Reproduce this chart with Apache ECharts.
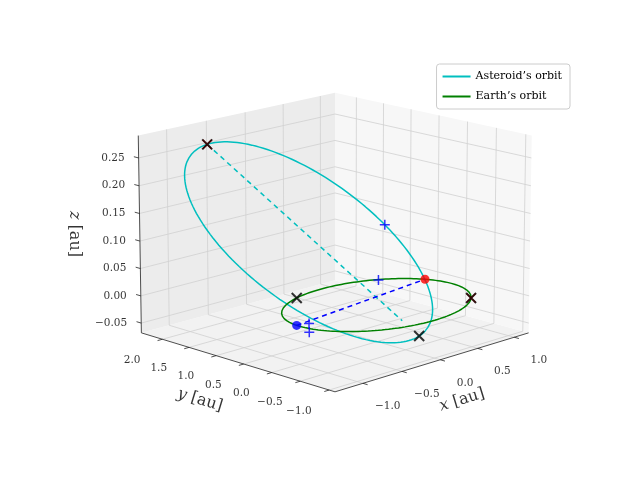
<!DOCTYPE html>
<html><head><meta charset="utf-8">
<script src="https://cdn.jsdelivr.net/npm/echarts@6/dist/echarts.min.js"></script>
<style>html,body{margin:0;padding:0;background:#fff}#c{width:640px;height:480px}</style>
</head><body><div id="c"></div>
<script>
// ---- data ----
const xTicks = [-1.0, -0.5, 0.0, 0.5, 1.0];
const yTicks = [-1.0, -0.5, 0.0, 0.5, 1.0, 1.5, 2.0];
const zTicks = [-0.05, 0.00, 0.05, 0.10, 0.15, 0.20, 0.25];
const xRange = [-1.35, 1.2];
const yRange = [-1.1, 2.4];
const zRange = [-0.068, 0.29];
// asteroid orbital shape: semi-major axis, eccentricity, perihelion dir, in-plane normal dir
const astA = 1.45, astE = 0.65;
const astP = [0.23, -0.97, -0.105];
const astQ = [0.97, 0.23, 0.0];
const earthR = 1.0;
// markers
const earthRedAngle = 22, earthBlueAngle = 177;      // degrees
const earthCrossAngles = [112, -40];
const astCrossE = [180, 5];                            // eccentric anomalies (deg)
const astPlusE = [85];
const plusPts = [[0.6, 0.78, 0.0], [-0.88, 0.0, 0.0], [-0.92, -0.06, -0.012]];

// ---- projection ----
const el = 15 * Math.PI / 180, az = -135 * Math.PI / 180;
const K = 276, CX = 335, CY = 235, BZ = 0.74, D = 12;
function nrm(v) { const l = Math.hypot(...v); return v.map(c => c / l); }
const Pn = nrm(astP), Qn = nrm(astQ);
function proj(x, y, z) {
  const u = (x - xRange[0]) / (xRange[1] - xRange[0]) - 0.5;
  const v = (y - yRange[0]) / (yRange[1] - yRange[0]) - 0.5;
  const w = ((z - zRange[0]) / (zRange[1] - zRange[0]) - 0.5) * BZ;
  const X = -u * Math.sin(az) + v * Math.cos(az);
  const Y = -Math.sin(el) * Math.cos(az) * u - Math.sin(el) * Math.sin(az) * v + Math.cos(el) * w;
  const d = Math.cos(el) * (Math.cos(az) * u + Math.sin(az) * v) + Math.sin(el) * w;
  const f = 1 / (1 - d / D);
  return [CX + K * X * f, CY - K * Y * f];
}
const [x0, x1] = xRange, [y0, y1] = yRange, [z0, z1] = zRange;
function astPos(Edeg) {
  const E = Edeg * Math.PI / 180;
  const a = astA * (Math.cos(E) - astE), b = astA * Math.sqrt(1 - astE * astE) * Math.sin(E);
  return [0, 1, 2].map(i => a * Pn[i] + b * Qn[i]);
}
function earthPos(t) { t = t * Math.PI / 180; return [earthR * Math.cos(t), earthR * Math.sin(t), 0]; }

// panes
const panes = [
  {pts: [[x0,y0,z0],[x1,y0,z0],[x1,y1,z0],[x0,y1,z0]], c: '#f2f2f2'},
  {pts: [[x1,y0,z0],[x1,y1,z0],[x1,y1,z1],[x1,y0,z1]], c: '#f7f7f7'},
  {pts: [[x0,y1,z0],[x1,y1,z0],[x1,y1,z1],[x0,y1,z1]], c: '#ececec'}
];
const segs = []; // grid lines
xTicks.forEach(x => { segs.push([proj(x,y0,z0), proj(x,y1,z0)]); segs.push([proj(x,y1,z0), proj(x,y1,z1)]); });
yTicks.forEach(y => { segs.push([proj(x0,y,z0), proj(x1,y,z0)]); segs.push([proj(x1,y,z0), proj(x1,y,z1)]); });
zTicks.forEach(z => { segs.push([proj(x1,y0,z), proj(x1,y1,z)]); segs.push([proj(x0,y1,z), proj(x1,y1,z)]); });
const axisSegs = [
  [proj(x0,y0,z0), proj(x1,y0,z0)], [proj(x0,y0,z0), proj(x0,y1,z0)], [proj(x0,y1,z0), proj(x0,y1,z1)]
];
xTicks.forEach(x => axisSegs.push([proj(x,y0,z0), proj(x,y0-0.08,z0)]));
yTicks.forEach(y => axisSegs.push([proj(x0,y,z0), proj(x0-0.06,y,z0)]));
zTicks.forEach(z => axisSegs.push([proj(x0,y1,z), proj(x0,y1+0.09,z)]));

const labels = [];
xTicks.forEach(x => { const p = proj(x, y0-0.42, z0); labels.push({value:[p[0], p[1]+16], t: x.toFixed(1).replace('-', '\u2212'), al:'center'}); });
yTicks.forEach(y => { const p = proj(x0-0.3, y, z0); labels.push({value:[p[0]-6, p[1]+14], t: y.toFixed(1).replace('-', '\u2212'), al:'center'}); });
zTicks.forEach(z => { const p = proj(x0, y1, z); labels.push({value:[p[0]-14, p[1]], t: z.toFixed(2).replace('-', '\u2212'), al:'right'}); });

const earthLine = [], astLine = [];
for (let t = 0; t <= 360; t += 2) earthLine.push(proj(...earthPos(t)));
for (let t = 0; t <= 360; t += 2) astLine.push(proj(...astPos(t)));

const aph = proj(...astPos(180));
const astNow = proj(...astPos(astCrossE[1]));
const dashEnd = [aph[0] + 0.92 * (astNow[0] - aph[0]), aph[1] + 0.92 * (astNow[1] - aph[1])];
const redP = proj(...earthPos(earthRedAngle)), blueP = proj(...earthPos(earthBlueAngle));
const blackX = earthCrossAngles.map(a => proj(...earthPos(a))).concat(astCrossE.map(e => proj(...astPos(e))));
const redX = [proj(...astPos(180)), proj(...earthPos(earthCrossAngles[1]))];
const plusP = plusPts.map(p => proj(...p)).concat(astPlusE.map(e => proj(...astPos(e))));

const FONT = 'DejaVu Serif';
const segSeries = (data, color, width, z) => ({
  type: 'custom', coordinateSystem: 'cartesian2d', silent: true, z: z,
  data: data.map(s => [s[0][0], s[0][1], s[1][0], s[1][1]]),
  renderItem: (params, api) => {
    const a = api.coord([api.value(0), api.value(1)]), b = api.coord([api.value(2), api.value(3)]);
    return {type:'line', shape:{x1:a[0],y1:a[1],x2:b[0],y2:b[1]}, style:{stroke:color, lineWidth:width}};
  }
});
const X_SYM = 'path://M0,0L10,10M10,0L0,10';
const P_SYM = 'path://M5,0L5,10M0,5L10,5';

const chart = echarts.init(document.getElementById('c'));
chart.setOption({
  animation: false,
  grid: {left:0, right:0, top:0, bottom:0},
  xAxis: {type:'value', min:0, max:640, show:false},
  yAxis: {type:'value', min:0, max:480, inverse:true, show:false},
  legend: {
    right: 70, top: 64, orient:'vertical', itemGap: 9, itemWidth: 28, itemHeight: 2,
    data: [{name:'Asteroid\u2019s orbit', icon:'rect'}, {name:'Earth\u2019s orbit', icon:'rect'}],
    textStyle: {fontFamily: FONT, fontSize: 11, color:'#000'},
    borderColor:'#ccc', borderWidth:1, borderRadius:3, padding:[7,8,7,6], backgroundColor:'rgba(255,255,255,0.8)'
  },
  series: [
    {type:'custom', coordinateSystem:'cartesian2d', silent:true, z:1,
     data: panes.map((p,i)=>[i]),
     renderItem: (params, api) => {
       const p = panes[api.value(0)];
       return {type:'polygon', shape:{points:p.pts.map(q=>api.coord(proj(...q)))}, style:{fill:p.c}};
     }},
    segSeries(segs, '#d0d0d0', 0.8, 2),
    segSeries(axisSegs, '#222', 0.8, 3),
    {type:'scatter', symbolSize:0, silent:true, z:4, data: labels.map(l=>({value:l.value, label:{show:true, formatter:l.t, align:l.al, verticalAlign:'middle', fontFamily:FONT, fontSize:10.5, color:'#000', position:'inside'}}))},
    {type:'scatter', symbolSize:0, silent:true, z:4, data:[
      {value:[462,400], label:{show:true, formatter:'{i|x} [au]', rotate:17, fontFamily:FONT, fontSize:16, color:'#000', rich:{i:{fontStyle:'italic', fontFamily:FONT, fontSize:16}}}},
      {value:[200,400], label:{show:true, formatter:'{i|y} [au]', rotate:-17, fontFamily:FONT, fontSize:16, color:'#000', rich:{i:{fontStyle:'italic', fontFamily:FONT, fontSize:16}}}},
      {value:[74,234], label:{show:true, formatter:'{i|z} [au]', rotate:-90, fontFamily:FONT, fontSize:16, color:'#000', rich:{i:{fontStyle:'italic', fontFamily:FONT, fontSize:16}}}}
    ], label:{position:'inside'}},
    {name:'Asteroid\u2019s orbit', type:'line', data: astLine, showSymbol:false, symbol:'none', z:5, lineStyle:{color:'#00bfbf', width:1.5}, itemStyle:{color:'#00bfbf'}},
    {name:'Earth\u2019s orbit', type:'line', data: earthLine, showSymbol:false, symbol:'none', z:6, lineStyle:{color:'#008000', width:1.5}, itemStyle:{color:'#008000'}},
    {type:'line', data:[aph, dashEnd], symbol:'none', z:6, lineStyle:{color:'#00bfbf', width:1.5, type:[5,4]}},
    {type:'line', data:[blueP, redP], symbol:'none', z:6, lineStyle:{color:'#0000ff', width:1.5, type:[5,4]}},
    {type:'scatter', data:[redP], symbolSize:9, z:7, itemStyle:{color:'#ff0000'}},
    {type:'scatter', data:[blueP], symbolSize:9, z:7, itemStyle:{color:'#0000ff'}},
    {type:'scatter', data:redX, symbol:X_SYM, symbolSize:9, z:7, itemStyle:{color:'none', borderColor:'#ff0000', borderWidth:1.5}},
    {type:'scatter', data:blackX, symbol:X_SYM, symbolSize:10, z:8, itemStyle:{color:'none', borderColor:'#000', borderWidth:2}},
    {type:'scatter', data:plusP, symbol:P_SYM, symbolSize:10, z:8, itemStyle:{color:'none', borderColor:'#0000ff', borderWidth:1.5}}
  ]
});
</script></body></html>
